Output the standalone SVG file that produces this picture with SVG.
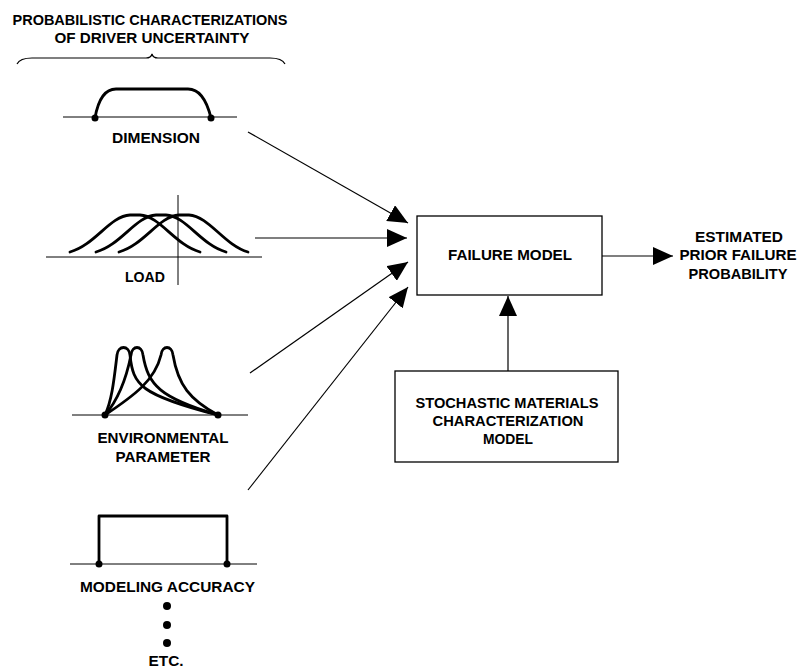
<svg xmlns="http://www.w3.org/2000/svg" width="798" height="668" viewBox="0 0 798 668">
<defs>
<style>
text{font-family:"Liberation Sans",Arial,sans-serif;font-size:15px;fill:#000;font-weight:bold;text-anchor:middle}
.ln{stroke:#000;stroke-width:1.2;fill:none}
.base{stroke:#000;stroke-width:1;fill:none}
.crv{stroke:#000;stroke-width:2.8;fill:none;stroke-linecap:round;stroke-linejoin:round}
.box{stroke:#000;stroke-width:1.3;fill:#fff}
.dot{fill:#000}
</style>
<marker id="ah" viewBox="0 0 20 18" refX="20" refY="9" markerWidth="20" markerHeight="18" markerUnits="userSpaceOnUse" orient="auto">
<path d="M0,0 L20,9 L0,18 Z" fill="#000"/>
</marker>
</defs>
<rect width="798" height="668" fill="#fff"/>

<g id="title">
<text x="150" y="25" textLength="275" lengthAdjust="spacingAndGlyphs">PROBABILISTIC CHARACTERIZATIONS</text>
<text x="152" y="43" textLength="195" lengthAdjust="spacingAndGlyphs">OF DRIVER UNCERTAINTY</text>
<path class="ln" d="M17,64 Q20,58 32,58 L146,58 Q151,58 152,54 Q153,58 158,58 L270,58 Q282,58 285,64"/>
</g>

<g id="dimension">
<line class="base" x1="63" y1="117" x2="237" y2="117"/>
<path class="crv" d="M95,118 Q100,89 116,89 L188,89 Q204,89 211,118"/>
<circle class="dot" cx="95" cy="118" r="3.5"/>
<circle class="dot" cx="211" cy="118" r="3.5"/>
<text x="156" y="143" textLength="88" lengthAdjust="spacingAndGlyphs">DIMENSION</text>
</g>

<g id="load">
<line class="base" x1="46" y1="257" x2="262" y2="257"/>
<line class="base" x1="178" y1="195" x2="178" y2="285"/>
<path class="crv" d="M70,252 C95,245 110,216 130,215 L140,215 C160,216 175,245 200,252"/>
<path class="crv" d="M96,252 C121,245 136,216 156,215 L166,215 C186,216 201,245 226,252"/>
<path class="crv" d="M119,252 C144,245 159,216 179,215 L189,215 C209,216 224,245 248,252"/>
<text x="145" y="282" textLength="40" lengthAdjust="spacingAndGlyphs">LOAD</text>
</g>

<g id="environmental">
<line class="base" x1="72" y1="415" x2="248" y2="415"/>
<path class="crv" d="M105,415 C112,400 114,380 117,355 C118,345 129,345 130,355 C133,385 140,395 218,415"/>
<path class="crv" d="M105,415 C118,400 126,380 131,355 C132,345 142,345 143,355 C148,385 160,398 218,415"/>
<path class="crv" d="M105,415 C135,395 155,380 161,355 C162,345 172,345 173,355 C178,385 190,400 218,415"/>
<circle class="dot" cx="105" cy="415" r="3.5"/>
<circle class="dot" cx="218" cy="415" r="3.5"/>
<text x="163" y="443" textLength="131" lengthAdjust="spacingAndGlyphs">ENVIRONMENTAL</text>
<text x="163" y="462" textLength="95" lengthAdjust="spacingAndGlyphs">PARAMETER</text>
</g>

<g id="modeling">
<line class="base" x1="70" y1="564" x2="257" y2="564"/>
<path class="crv" d="M99,564 L99,516 L227,516 L227,564" stroke-linecap="butt" stroke-linejoin="miter"/>
<circle class="dot" cx="99" cy="564" r="3.5"/>
<circle class="dot" cx="227" cy="564" r="3.5"/>
<text x="167.5" y="592" textLength="175" lengthAdjust="spacingAndGlyphs">MODELING ACCURACY</text>
<circle class="dot" cx="167" cy="606" r="4"/>
<circle class="dot" cx="167" cy="625" r="4"/>
<circle class="dot" cx="167" cy="643" r="4"/>
<text x="166" y="666" textLength="35" lengthAdjust="spacingAndGlyphs">ETC.</text>
</g>

<g id="failure-model">
<rect class="box" x="417" y="216" width="185" height="79"/>
<text x="510" y="260" textLength="124" lengthAdjust="spacingAndGlyphs">FAILURE MODEL</text>
</g>

<g id="stochastic">
<rect class="box" x="395" y="371" width="223" height="91"/>
<text x="507" y="408" textLength="183" lengthAdjust="spacingAndGlyphs">STOCHASTIC MATERIALS</text>
<text x="508" y="426" textLength="151" lengthAdjust="spacingAndGlyphs">CHARACTERIZATION</text>
<text x="508" y="444" textLength="50" lengthAdjust="spacingAndGlyphs">MODEL</text>
</g>

<g id="output">
<text x="739" y="242" textLength="88" lengthAdjust="spacingAndGlyphs">ESTIMATED</text>
<text x="738" y="260" textLength="117" lengthAdjust="spacingAndGlyphs">PRIOR FAILURE</text>
<text x="738" y="279" textLength="99" lengthAdjust="spacingAndGlyphs">PROBABILITY</text>
</g>

<g id="connectors">
<line class="ln" x1="248" y1="132" x2="408" y2="223" marker-end="url(#ah)"/>
<line class="ln" x1="255" y1="238" x2="407" y2="238" marker-end="url(#ah)"/>
<line class="ln" x1="250" y1="373" x2="408" y2="262" marker-end="url(#ah)"/>
<line class="ln" x1="248" y1="490" x2="408" y2="287" marker-end="url(#ah)"/>
<line class="ln" x1="508" y1="371" x2="508" y2="296" marker-end="url(#ah)"/>
<line class="ln" x1="602" y1="256" x2="673" y2="256" marker-end="url(#ah)"/>
</g>
</svg>
